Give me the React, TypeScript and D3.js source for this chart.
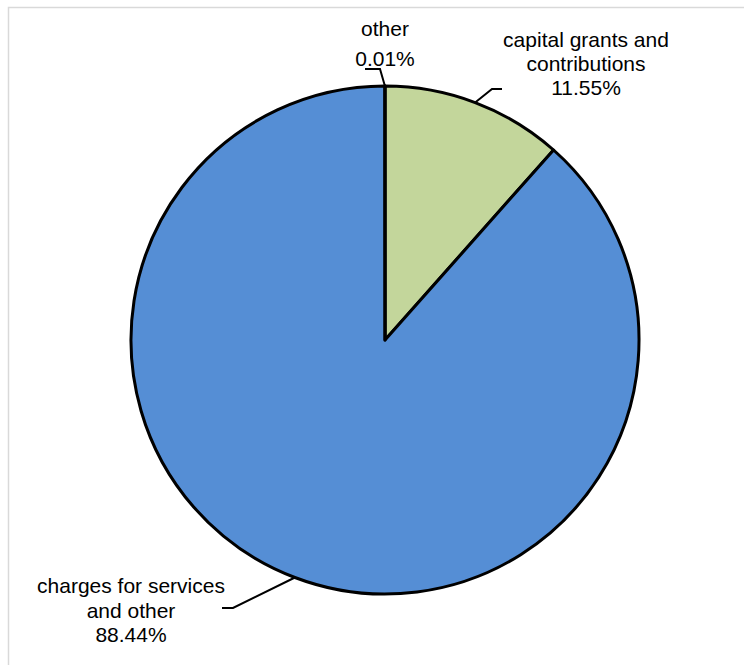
import React from "react";
import * as d3 from "d3";

const categories = ["capital grants and contributions", "charges for services and other", "other"];
const values = [11.55, 88.44, 0.01];
const labelLines = [
  ["capital grants and", "contributions", "11.55%"],
  ["charges for services", "and other", "88.44%"],
  ["other", "0.01%"],
];
const colors = ["#C3D69B", "#558ED5", "#558ED5"];

const W = 744, H = 665;
const cx = 385, cy = 340, R = 254;

// label layout: text center, first baseline, line spacing, knee & end of leader
const layouts = [
  { x: 586, y: 47, dy: 24, knee: [492, 89], end: [502, 89] },
  { x: 131, y: 593, dy: 24.5, knee: [233, 608], end: [222, 608] },
  { x: 385, y: 36, dy: 30, knee: [380, 69], end: [365, 69] },
];

export default function App() {
  const data = categories.map((c, i) => ({ c, v: values[i], i }));
  const pie = d3.pie<any>().sort(null).value((d: any) => d.v);
  const arcs = pie(data);
  const arc = d3.arc<any>().innerRadius(0).outerRadius(R);
  return (
    <svg width={W} height={H} style={{ position: "absolute", left: 0, top: 0 }}
      fontFamily="'Liberation Sans', Arial, sans-serif">
      <rect x={8.5} y={7.5} width={W + 10} height={H + 10} fill="#fff" stroke="#D9D9D9" strokeWidth={1.5} />
      <g transform={`translate(${cx},${cy})`}>
        {arcs.map((a, i) => (
          <path key={i} d={arc(a) || ""} fill={colors[i]} stroke="#000" strokeWidth={3} strokeLinejoin="round" />
        ))}
      </g>
      {arcs.map((a, i) => {
        const mid = (a.startAngle + a.endAngle) / 2;
        const sx = cx + R * Math.sin(mid);
        const sy = cy - R * Math.cos(mid);
        const L = layouts[i];
        return (
          <g key={i}>
            <polyline points={`${sx},${sy} ${L.knee[0]},${L.knee[1]} ${L.end[0]},${L.end[1]}`}
              fill="none" stroke="#000" strokeWidth={2} />
            <text textAnchor="middle" fontSize={21} fill="#000">
              {labelLines[i].map((t, j) => (
                <tspan key={j} x={L.x} y={L.y + j * L.dy}>{t}</tspan>
              ))}
            </text>
          </g>
        );
      })}
    </svg>
  );
}
